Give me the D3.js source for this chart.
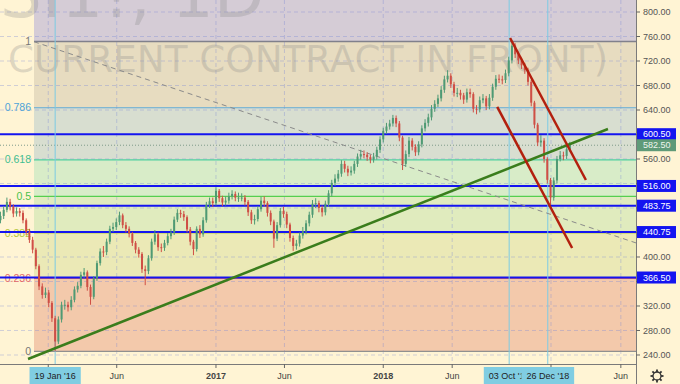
<!DOCTYPE html>
<html lang="en">
<head>
  <meta charset="UTF-8" />
  <title>SI1!, 1D</title>
  <script src="https://d3js.org/d3.v7.min.js"></script>
  <style>
    body { margin: 0; background: #fff4d4; }
    svg { display: block; font-family: "Liberation Sans", Arial, sans-serif; }
  </style>
</head>
<body>
  <svg width="680" height="384"></svg>

  <script>
    // weekly bars, open = previous close
    const firstWeek = "2015-09-22";
    const firstOpen = 460;
    const closes = [
      467,477,490,482,471,475,472,460,441,428,
      412,385,352,338,342,325,300,262,298,322,
      322,318,330,347,353,371,375,351,335,365,
      390,409,408,425,446,449,457,468,452,446,
      438,423,412,405,380,377,398,425,437,416,
      415,423,434,440,461,472,470,465,445,425,
      413,446,437,460,485,491,488,508,496,489,
      492,499,503,497,497,497,490,473,460,462,
      478,492,488,472,458,430,452,475,470,453,
      431,418,422,435,442,455,469,487,488,480,
      473,487,504,521,528,536,552,544,538,541,
      552,564,568,567,563,559,564,575,592,606,
      613,618,627,618,595,552,568,590,580,571,
      584,610,619,628,642,650,659,673,690,696,
      682,668,668,664,657,669,666,642,641,656,
      659,646,660,678,691,690,689,700,721,745,
      731,721,713,705,686,652,616,587,590,560,
      526,497,525,560,566,565,576,582.5
    ];
    const highs = [
      474,483,497,495,486,481,480,476,463,446,
      433,415,388,357,350,346,328,304,303,327,
      330,327,336,352,359,376,382,378,355,369,
      394,414,418,430,451,456,463,474,471,457,
      450,441,426,416,408,386,403,430,444,440,
      422,428,439,446,466,478,477,475,468,449,
      428,450,452,465,490,497,497,514,511,500,
      499,505,509,507,505,504,501,493,477,469,
      483,498,499,491,476,461,457,480,482,474,
      456,435,428,440,449,460,474,493,496,492,
      484,492,509,526,535,542,558,557,549,548,
      557,569,575,574,571,567,570,580,597,611,
      619,624,632,631,622,598,574,596,594,584,
      589,615,625,634,648,656,665,679,696,705,
      700,686,676,673,668,675,675,669,648,662,
      666,663,666,683,697,698,696,706,727,752,
      749,735,725,717,709,689,655,619,599,594,
      563,529,530,565,573,572,581,588
    ];
    const lows = [
      455,462,473,476,465,466,466,455,436,423,
      406,380,346,332,333,318,294,246,258,293,
      314,311,313,326,342,349,366,345,322,331,
      361,386,400,403,421,441,444,452,447,440,
      432,418,406,399,374,354,372,394,420,410,
      408,410,419,429,436,457,464,459,440,419,
      403,409,431,433,456,480,482,484,490,483,
      484,487,494,491,490,491,484,467,454,453,
      458,474,482,466,452,415,426,448,464,447,
      425,410,412,417,430,437,450,464,480,473,
      466,468,482,499,516,523,531,538,532,533,
      536,547,559,561,557,553,554,559,570,587,
      601,608,613,612,589,542,547,563,574,565,
      566,579,605,613,623,637,645,654,668,685,
      676,662,661,657,650,652,660,636,633,636,
      651,640,641,655,673,684,682,684,695,716,
      725,715,707,699,680,646,610,581,580,554,
      520,485,492,520,556,558,560,572
    ];

    const fibLow = 246, fibHigh = 752;
    const fibStart = "2015-12-04";
    const fibRatios = [1, 0.786, 0.618, 0.5, 0.382, 0.236, 0];
    const fibLabels = ["1", "0.786", "0.618", "0.5", "0.382", "0.236", "0"];
    const levels = [600.5, 516, 483.75, 440.75, 366.5];
    const lastPrice = 582.5;
    const markerDates = ["2016-01-19", "2018-10-03", "2018-12-26"];
    const markerLabels = ["19 Jan '16", "03 Oct '18", "26 Dec '18"];
    const priceTicks = [240, 280, 320, 360, 400, 440, 480, 520, 560, 600, 640, 680, 720, 760, 800];
    const timeTicks = ["2016-01-04", "2016-06-01", "2017-01-03", "2017-06-01", "2018-01-02", "2018-06-01", "2019-01-02", "2019-06-03"];
    const timeTickLabels = ["2016", "Jun", "2017", "Jun", "2018", "Jun", "2019", "Jun"];
    const trendLine = [["2015-11-21", 233.5], ["2019-05-06", 609]];
    const channelUpper = [["2018-10-05", 757.6], ["2019-03-19", 525.7]];
    const channelLower = [["2018-09-07", 645], ["2019-02-17", 414.7]];
    const fibDiagonal = [["2015-12-04", 751.5], ["2019-07-06", 423]];

    const plotW = 636, plotH = 364;
    const parse = d3.timeParse("%Y-%m-%d");
    const svg = d3.select("svg");

    const x = d3.scaleTime().domain([parse("2015-09-21"), parse("2019-07-06")]).range([0, plotW]);
    const y = d3.scaleLinear().domain([225.3, 819.6]).range([plotH, 0]);

    const bars = closes.map((c, i) => ({
      date: d3.timeWeek.offset(parse(firstWeek), i),
      o: i === 0 ? firstOpen : closes[i - 1],
      h: highs[i], l: lows[i], c: c
    }));

    svg.append("defs").append("clipPath").attr("id", "plot")
      .append("rect").attr("width", plotW).attr("height", plotH);

    const plot = svg.append("g").attr("clip-path", "url(#plot)");

    // fib zones
    const fx0 = x(parse(fibStart));
    const fibPrice = r => fibLow + r * (fibHigh - fibLow);
    const zoneColors = ["#e7dcc0", "#d8ded0", "#d8ecc8", "#e0ebbe", "#ebe9b6", "#f3c9ab"];
    plot.append("rect")
      .attr("x", fx0).attr("y", 0).attr("width", plotW - fx0).attr("height", y(fibHigh))
      .attr("fill", "#d5ccd6");
    for (let i = 0; i < fibRatios.length - 1; i++) {
      const y0 = y(fibPrice(fibRatios[i])), y1 = y(fibPrice(fibRatios[i + 1]));
      plot.append("rect")
        .attr("x", fx0).attr("y", y0).attr("width", plotW - fx0).attr("height", y1 - y0)
        .attr("fill", zoneColors[i]);
    }

    // grid
    const gridColor = "rgba(120,135,215,0.35)";
    plot.append("g").selectAll("line").data(priceTicks).join("line")
      .attr("x1", 0).attr("x2", plotW).attr("y1", d => y(d)).attr("y2", d => y(d))
      .attr("stroke", gridColor).attr("stroke-dasharray", "4,3");
    plot.append("g").selectAll("line").data(timeTicks).join("line")
      .attr("x1", d => x(parse(d))).attr("x2", d => x(parse(d))).attr("y1", 0).attr("y2", plotH)
      .attr("stroke", gridColor).attr("stroke-dasharray", "4,3");

    // watermark (runs off the top edge, as in the original)
    plot.append("text").text("SI1!, 1D")
      .attr("x", 0).attr("y", 17)
      .attr("font-family", "DejaVu Sans").attr("font-size", 66)
      .attr("fill", "#8a8a8a").attr("fill-opacity", 0.28);
    plot.append("text").text("CURRENT CONTRACT IN FRONT)")
      .attr("x", 8).attr("y", 72)
      .attr("font-family", "DejaVu Sans").attr("font-size", 37)
      .attr("textLength", 600).attr("lengthAdjust", "spacingAndGlyphs")
      .attr("fill", "#8a8a8a").attr("fill-opacity", 0.28);

    // fib lines + labels
    const fibLineColors = ["#80808c", "#5fa8d6", "#4fcf9f", "#55cf4f", "#b5cc3a", "#e04848", "#909090"];
    const fibTextColors = ["#777777", "#4ea3d8", "#3fbf90", "#4cc24c", "#b2c63a", "#e46a6a", "#777777"];
    fibRatios.forEach((r, i) => {
      const yy = y(fibPrice(r));
      plot.append("line")
        .attr("x1", fx0).attr("x2", plotW).attr("y1", yy).attr("y2", yy)
        .attr("stroke", fibLineColors[i]).attr("stroke-width", i === 0 ? 1.5 : 1.2);
      plot.append("text").text(fibLabels[i])
        .attr("x", fx0 - 3).attr("y", yy).attr("dy", "0.35em")
        .attr("text-anchor", "end").attr("font-size", 10.5)
        .attr("fill", fibTextColors[i]);
    });

    // horizontal levels
    plot.append("g").selectAll("line").data(levels).join("line")
      .attr("x1", 0).attr("x2", plotW).attr("y1", d => y(d)).attr("y2", d => y(d))
      .attr("stroke", "#1414f0").attr("stroke-width", 2);

    plot.append("line")
      .attr("x1", 0).attr("x2", plotW).attr("y1", y(lastPrice)).attr("y2", y(lastPrice))
      .attr("stroke", "#7f9a8a").attr("stroke-dasharray", "1,2");

    // vertical date markers
    plot.append("g").selectAll("line").data(markerDates).join("line")
      .attr("x1", d => x(parse(d))).attr("x2", d => x(parse(d))).attr("y1", 0).attr("y2", plotH)
      .attr("stroke", "#7ccbe4").attr("stroke-width", 1);

    // fib diagonal
    const linePath = d3.line().x(d => x(parse(d[0]))).y(d => y(d[1]));
    plot.append("path").attr("d", linePath(fibDiagonal))
      .attr("fill", "none").attr("stroke", "#8a8a8a").attr("stroke-dasharray", "5,4");

    // candles
    const up = "#4f9a74", down = "#cf4f45";
    const candle = plot.append("g").selectAll("g").data(bars).join("g");
    candle.append("line")
      .attr("x1", d => x(d.date)).attr("x2", d => x(d.date))
      .attr("y1", d => y(d.h)).attr("y2", d => y(d.l))
      .attr("stroke", d => d.c >= d.o ? up : down).attr("stroke-width", 1);
    candle.append("rect")
      .attr("x", d => x(d.date) - 1).attr("width", 2)
      .attr("y", d => y(Math.max(d.o, d.c)))
      .attr("height", d => Math.max(1, Math.abs(y(d.o) - y(d.c))))
      .attr("fill", d => d.c >= d.o ? up : down);

    // drawn trend lines
    plot.append("path").attr("d", linePath(trendLine))
      .attr("fill", "none").attr("stroke", "#3a7d1c").attr("stroke-width", 2.5);
    [channelUpper, channelLower].forEach(c => {
      plot.append("path").attr("d", linePath(c))
        .attr("fill", "none").attr("stroke", "#b3200e").attr("stroke-width", 2.5);
    });

    // axes frame
    svg.append("line").attr("x1", 0).attr("x2", plotW).attr("y1", plotH + 0.5).attr("y2", plotH + 0.5)
      .attr("stroke", "#7a7a7a");
    svg.append("line").attr("x1", plotW + 0.5).attr("x2", plotW + 0.5).attr("y1", 0).attr("y2", 384)
      .attr("stroke", "#7a7a7a");

    // price axis: labels hidden by a level box are left out
    const boxPrices = levels.concat([lastPrice]);
    const freeTicks = priceTicks.filter(t => boxPrices.every(b => Math.abs(y(t) - y(b)) > 11));
    const pa = svg.append("g");
    pa.selectAll("line").data(priceTicks).join("line")
      .attr("x1", plotW).attr("x2", plotW + 4).attr("y1", d => y(d)).attr("y2", d => y(d))
      .attr("stroke", "#666");
    pa.selectAll("text").data(freeTicks).join("text")
      .attr("x", plotW + 7).attr("y", d => y(d)).attr("dy", "0.35em")
      .attr("font-size", 9).attr("fill", "#555")
      .text(d => d3.format(".2f")(d));

    // time axis: labels hidden by a date marker box are left out
    const markerX = markerDates.map(d => x(parse(d)));
    const ta = svg.append("g");
    ta.selectAll("line").data(timeTicks).join("line")
      .attr("x1", d => x(parse(d))).attr("x2", d => x(parse(d))).attr("y1", plotH).attr("y2", plotH + 4)
      .attr("stroke", "#666");
    const freeTime = timeTicks.map((d, i) => ({ d, label: timeTickLabels[i] }))
      .filter(t => markerX.every(mx => Math.abs(x(parse(t.d)) - mx) > 40));
    ta.selectAll("text").data(freeTime).join("text")
      .attr("x", t => x(parse(t.d))).attr("y", 376).attr("dy", "0.35em")
      .attr("text-anchor", "middle").attr("font-size", 9).attr("fill", "#444")
      .attr("font-weight", t => /^\d+$/.test(t.label) ? "bold" : "normal")
      .text(t => t.label);

    // level boxes
    const boxes = levels.map(v => ({ v, fill: "#1414f0", color: "#fff" }))
      .concat([{ v: lastPrice, fill: "#5f9a78", color: "#eef5ee" }]);
    boxes.forEach(b => {
      svg.append("rect").attr("x", plotW + 1).attr("y", y(b.v) - 6).attr("width", 39).attr("height", 12)
        .attr("fill", b.fill);
      svg.append("text").text(d3.format(".2f")(b.v))
        .attr("x", plotW + 7).attr("y", y(b.v)).attr("dy", "0.35em")
        .attr("font-size", 9).attr("fill", b.color);
    });

    // date marker boxes (the last one overlaps the one before it)
    markerDates.forEach((d, i) => {
      const cx = x(parse(d));
      const g = svg.append("g");
      const r = g.append("rect").attr("y", 367).attr("height", 17).attr("fill", "#80cde2");
      const t = g.append("text").text(markerLabels[i])
        .attr("x", cx).attr("y", 376).attr("dy", "0.35em")
        .attr("text-anchor", "middle").attr("font-size", 9).attr("fill", "#222");
      const w = t.node().getComputedTextLength() + 10;
      r.attr("x", cx - w / 2).attr("width", w);
    });

    // settings gear
    const gear = svg.append("g").attr("transform", "translate(657,376)")
      .attr("stroke", "#333").attr("fill", "none").attr("stroke-width", 1.3);
    gear.append("circle").attr("r", 4);
    d3.range(8).forEach(k => {
      const a = k * Math.PI / 4;
      gear.append("line")
        .attr("x1", Math.cos(a) * 4).attr("y1", Math.sin(a) * 4)
        .attr("x2", Math.cos(a) * 6.5).attr("y2", Math.sin(a) * 6.5)
        .attr("stroke-width", 1.8);
    });
  </script>
</body>
</html>
